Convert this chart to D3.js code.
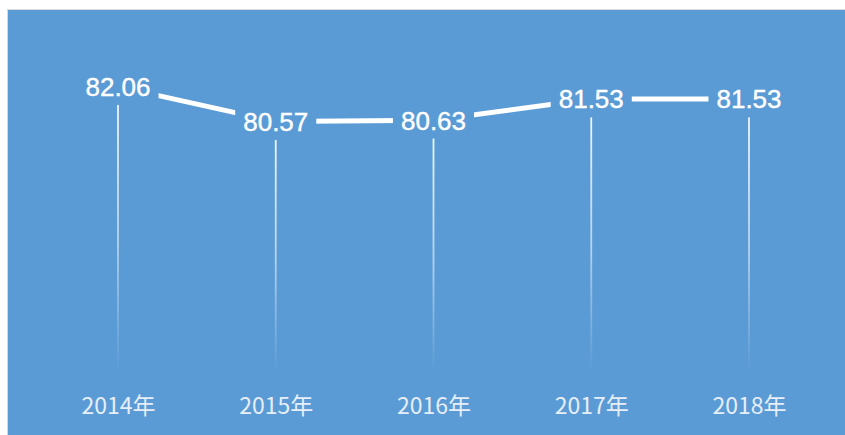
<!DOCTYPE html>
<html>
<head>
<meta charset="utf-8">
<script src="https://cdn.jsdelivr.net/npm/d3@7/dist/d3.min.js"></script>
<style>
  html, body { margin: 0; padding: 0; background: #ffffff; overflow: hidden; }
  svg { display: block; }
</style>
</head>
<body>
<svg id="chart" width="845" height="435"></svg>
<script>
// Annual index values
const years = ["2014年", "2015年", "2016年", "2017年", "2018年"];
const values = [82.06, 80.57, 80.63, 81.53, 81.53];

const W = 845, H = 435;
const bg = "#5b9bd5";
const svg = d3.select("#chart");

// gradient for the drop lines: solid white fading out toward the baseline
const defs = svg.append("defs");
const grad = defs.append("linearGradient")
  .attr("id", "dropFade")
  .attr("gradientUnits", "objectBoundingBox")
  .attr("x1", 0).attr("y1", 0).attr("x2", 0).attr("y2", 1);
grad.append("stop").attr("offset", "0%").attr("stop-color", "#ffffff").attr("stop-opacity", 0.95);
grad.append("stop").attr("offset", "55%").attr("stop-color", "#ffffff").attr("stop-opacity", 0.55);
grad.append("stop").attr("offset", "100%").attr("stop-color", "#ffffff").attr("stop-opacity", 0);

// panel with a faint frame
svg.append("rect")
  .attr("x", 7).attr("y", 9).attr("width", W - 7).attr("height", H - 9)
  .attr("fill", "#d9d9d9");
svg.append("rect")
  .attr("x", 8).attr("y", 10).attr("width", W - 8).attr("height", H - 10)
  .attr("fill", bg);

const x = d3.scalePoint().domain(years).range([118, 749]);
const y = d3.scaleLinear().domain([70, 84]).range([370, 41]);

const data = years.map((yr, i) => ({ yr, v: values[i] }));

// drop lines from each point down to the baseline
svg.append("g").selectAll("rect.drop")
  .data(data)
  .join("rect")
  .attr("class", "drop")
  .attr("x", d => x(d.yr) - 0.9)
  .attr("y", d => y(d.v))
  .attr("width", 1.8)
  .attr("height", d => y(70) - y(d.v))
  .attr("fill", "url(#dropFade)");

// the trend line
svg.append("path")
  .datum(data)
  .attr("fill", "none")
  .attr("stroke", "#ffffff")
  .attr("stroke-width", 5)
  .attr("d", d3.line().x(d => x(d.yr)).y(d => y(d.v)));

// value labels sitting on panel-coloured plates
const lab = svg.append("g").selectAll("g.lab")
  .data(data)
  .join("g")
  .attr("class", "lab")
  .attr("transform", d => `translate(${x(d.yr)},${y(d.v)})`);

lab.append("text")
  .attr("text-anchor", "middle")
  .attr("dy", "0.36em")
  .attr("fill", "#ffffff")
  .attr("stroke", "#ffffff")
  .attr("stroke-width", 0.4)
  .style("font-family", "'Liberation Sans', Arial, sans-serif")
  .style("font-size", "26px")
  .text(d => d.v.toFixed(2))
  .each(function () {
    const b = this.getBBox();
    d3.select(this.parentNode).insert("rect", "text")
      .attr("x", b.x - 8).attr("y", b.y - 1)
      .attr("width", b.width + 16).attr("height", b.height + 4)
      .attr("fill", bg);
  });

// category axis labels
const xAxis = d3.axisBottom(x).tickSize(0).tickPadding(0);
const gx = svg.append("g").attr("transform", "translate(0,414)").call(xAxis);
gx.select(".domain").remove();
gx.selectAll("text")
  .attr("fill", "#e6eef8")
  .attr("y", 0)
  .attr("dy", 0)
  .style("font-family", "'Noto Sans CJK SC', 'Noto Sans', sans-serif")
  .style("font-size", "23px");
</script>
</body>
</html>
